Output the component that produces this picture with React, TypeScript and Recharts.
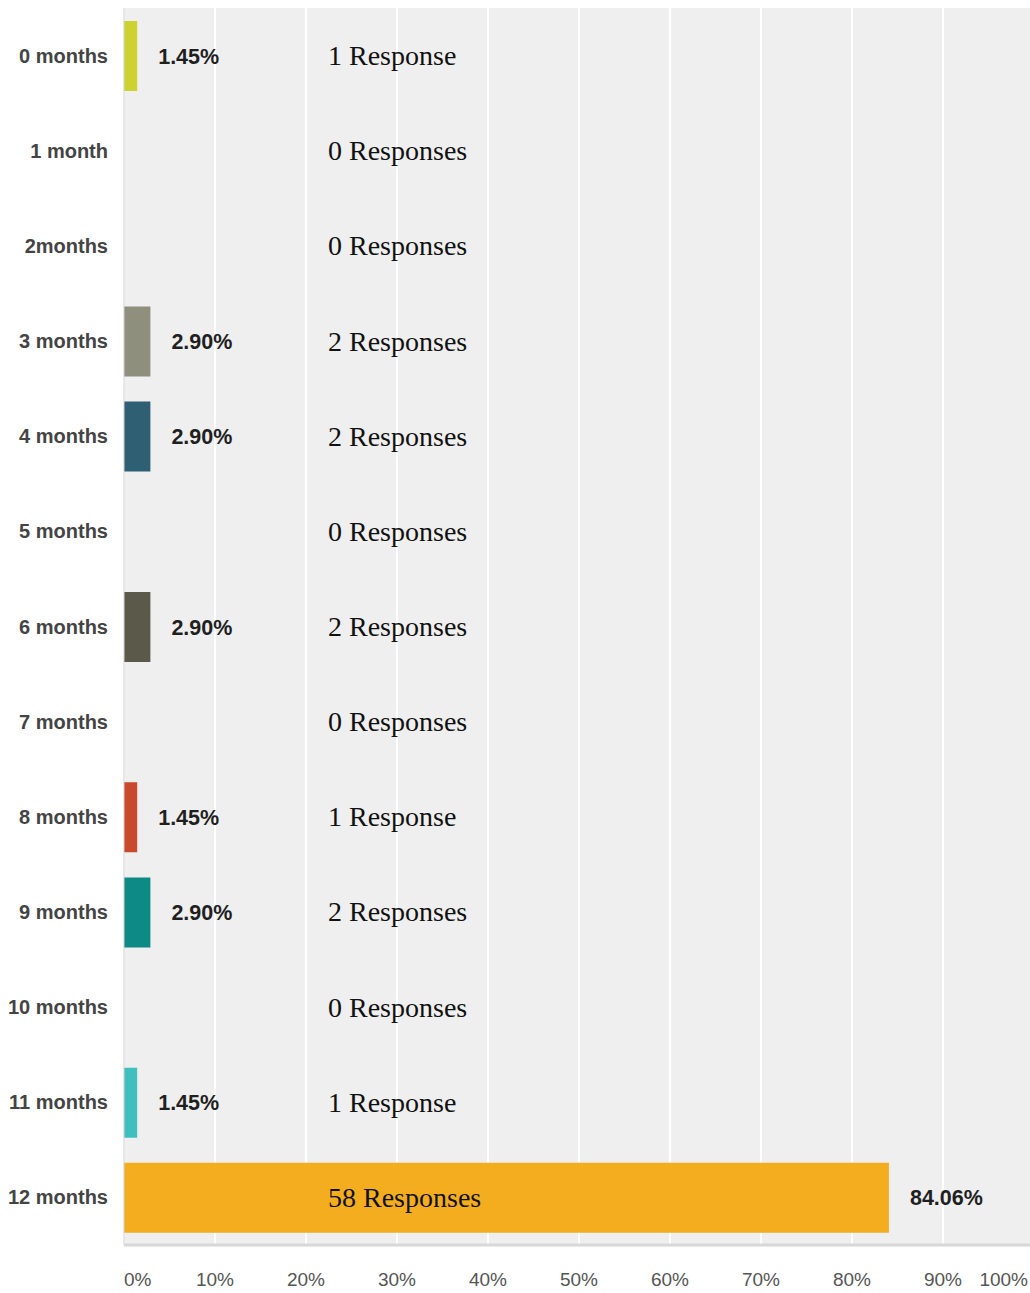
import { BarChart, Bar, XAxis, YAxis, CartesianGrid, LabelList, Cell } from "recharts";

const categories = [
  "0 months", "1 month", "2months", "3 months", "4 months", "5 months", "6 months",
  "7 months", "8 months", "9 months", "10 months", "11 months", "12 months",
];
const percents = [1.45, 0, 0, 2.9, 2.9, 0, 2.9, 0, 1.45, 2.9, 0, 1.45, 84.06];
const responses = [1, 0, 0, 2, 2, 0, 2, 0, 1, 2, 0, 1, 58];
const barColors = [
  "#cdd231", "#cdd231", "#cdd231", "#8e8f7c", "#2f5f72", "#2f5f72", "#5b594a",
  "#5b594a", "#c8492b", "#0d8a86", "#0d8a86", "#3fc0bf", "#f4ad1f",
];
const xTicks = [0, 10, 20, 30, 40, 50, 60, 70, 80, 90, 100];

const SANS = '"Liberation Sans", Arial, sans-serif';
const SERIF = '"Liberation Serif", "Times New Roman", serif';

const Y_TICK_MARGIN = 16;
const RESPONSE_OFFSET = 204; // distance from the plot's left edge

const chartData = categories.map((name, i) => ({
  name,
  pct: percents[i],
  responses: responses[i],
}));

const XTick = (props: any) => {
  const { x, y, payload } = props;
  const v = payload.value;
  const anchor = v === 0 ? "start" : v === 100 ? "end" : "middle";
  return (
    <text x={x} y={y} dy="0.71em" textAnchor={anchor} fill="#555" fontSize={19} fontFamily={SANS}>
      {v}%
    </text>
  );
};

// category label on the left plus the "N Responses" text inside the plot
const YTick = (props: any) => {
  const { x, y, payload } = props;
  const n = responses[payload.index];
  const plotLeft = x + Y_TICK_MARGIN;
  return (
    <g>
      <text
        x={x}
        y={y}
        textAnchor="end"
        dominantBaseline="central"
        fill="#444"
        fontSize={20}
        fontWeight={700}
        fontFamily={SANS}
      >
        {payload.value}
      </text>
      <text
        x={plotLeft + RESPONSE_OFFSET}
        y={y}
        dominantBaseline="central"
        fill="#111"
        fontSize={28}
        fontFamily={SERIF}
      >
        {n === 1 ? "1 Response" : `${n} Responses`}
      </text>
    </g>
  );
};

export default function App() {
  return (
    <div style={{ position: "fixed", top: 0, left: 0, width: 1030, height: 1293, overflow: "hidden", background: "#fff" }}>
      <BarChart
        layout="vertical"
        width={1040}
        height={1293}
        data={chartData}
        margin={{ top: 8, right: 6, bottom: 0, left: 0 }}
      >
        <CartesianGrid horizontal={false} stroke="#ffffff" strokeWidth={2} fill="#efefef" />
        <XAxis
          type="number"
          domain={[0, 100]}
          ticks={xTicks}
          height={48}
          tickSize={0}
          tickMargin={28}
          tickLine={false}
          axisLine={{ stroke: "#d8d8d8", strokeWidth: 3 }}
          tick={<XTick />}
        />
        <YAxis
          type="category"
          dataKey="name"
          width={124}
          tickSize={0}
          tickMargin={Y_TICK_MARGIN}
          tickLine={false}
          axisLine={{ stroke: "#cfcfcf" }}
          tick={<YTick />}
        />
        <Bar dataKey="pct" barSize={70} isAnimationActive={false}>
          {chartData.map((d, i) => (
            <Cell key={d.name} fill={barColors[i]} />
          ))}
          <LabelList
            dataKey="pct"
            position="right"
            offset={21}
            formatter={(v: any) => (Number(v) > 0 ? `${Number(v).toFixed(2)}%` : "")}
            fill="#1f1f1f"
            fontSize={21.5}
            fontWeight={700}
            fontFamily={SANS}
          />
        </Bar>
      </BarChart>
    </div>
  );
}
